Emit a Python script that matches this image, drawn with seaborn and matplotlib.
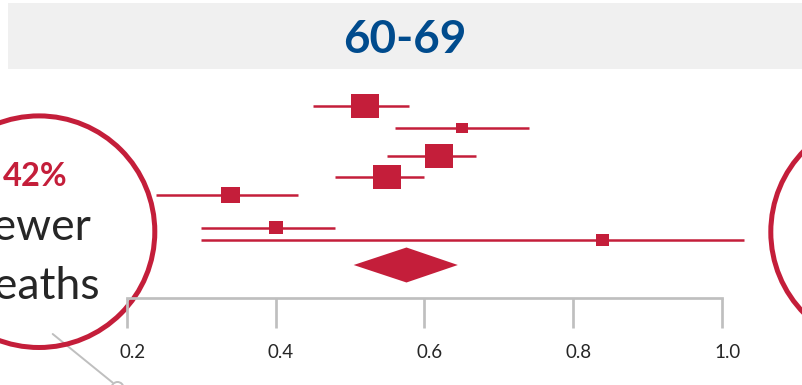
import numpy as np
import pandas as pd
import matplotlib
matplotlib.use("Agg")
import matplotlib.pyplot as plt
import seaborn as sns
from matplotlib.patches import Circle, Rectangle, Polygon
from matplotlib.path import Path
from matplotlib.transforms import ScaledTranslation

# Study-level hazard ratios, age group 60-69
hazard_ratio = [0.52, 0.65, 0.62, 0.55, 0.34, 0.40, 0.84]
ci_lower = [0.45, 0.56, 0.55, 0.48, 0.24, 0.30, 0.30]
ci_upper = [0.58, 0.74, 0.67, 0.60, 0.43, 0.48, 1.03]
weight_pct = [24.3, 4.5, 24.3, 24.0, 11.2, 6.1, 5.3]

# Pooled estimate
pooled_hr = 0.576
pooled_lower = 0.505
pooled_upper = 0.645

tick_values = [0.2, 0.4, 0.6, 0.8, 1.0]
tick_labels = ["0.2", "0.4", "0.6", "0.8", "1.0"]
panel_title = "60-69"

# ---- layout (pixel units, top = 0) ----
W, H = 803, 385
row_y = [105.7, 128, 156.3, 177, 195, 227.5, 240]
pooled_y = 265
diamond_half = 17.5
axis_y = 297.5
PX_PER_UNIT = 744.1
X_LEFT = 0.2 - 126.7 / PX_PER_UNIT
X_RIGHT = 0.2 + (W - 126.7) / PX_PER_UNIT

RED = "#C41E3A"
BLUE = "#004B8D"
GREY = "#BFBFBF"
TEXT = "#262626"

sns.set_theme(style="white")
plt.rcParams["font.family"] = ["Lato", "DejaVu Sans"]

fig = plt.figure(figsize=(W / 100, H / 100), dpi=100)

# decoration layer in pixel coordinates
deco = fig.add_axes([0, 0, 1, 1])
deco.set_xlim(0, W)
deco.set_ylim(H, 0)
deco.axis("off")

deco.add_patch(Rectangle((8, 3), W - 8, 66, facecolor="#F0F0F0", edgecolor="none"))
deco.text(405, 53.3, panel_title, ha="center", va="baseline", fontsize=33,
          fontweight="bold", color=BLUE)

# callout circles
deco.add_patch(Circle((39, 231.7), 115.8, fill=False, edgecolor=RED, linewidth=3.6, zorder=3))
deco.add_patch(Circle((886.6, 232), 115.8, fill=False, edgecolor=RED, linewidth=3.6, zorder=3))
deco.plot([52.7, 112.5], [334, 382.5], color=GREY, linewidth=1.4, zorder=2)
deco.add_patch(Circle((117.5, 388), 6, facecolor="white", edgecolor=GREY, linewidth=1.4, zorder=2))

reduction = int(round((1 - pooled_hr) * 100))
deco.text(35, 186, f"{reduction}%", ha="center", va="baseline", fontsize=23.5,
          fontweight="bold", color=RED)
deco.text(34, 240, "fewer", ha="center", va="baseline", fontsize=32, color=TEXT)
deco.text(34, 299, "deaths", ha="center", va="baseline", fontsize=32, color=TEXT)

# forest plot layer
ax = fig.add_axes([0, 0, 1, 1])
ax.patch.set_alpha(0)

df = pd.DataFrame({"hr": hazard_ratio, "lo": ci_lower, "hi": ci_upper,
                   "row": row_y, "weight": weight_pct})

ax.hlines(df["row"], df["lo"], df["hi"], color=RED, linewidth=1.8, zorder=2)

box_marker = Path([(-0.5, -0.43), (0.5, -0.43), (0.5, 0.43), (-0.5, 0.43), (-0.5, -0.43)],
                  [Path.MOVETO, Path.LINETO, Path.LINETO, Path.LINETO, Path.CLOSEPOLY])
size_lookup = {w: (28 * np.sqrt(w / 24.3) * 0.72) ** 2 for w in weight_pct}
sns.scatterplot(data=df, x="hr", y="row", size="weight", sizes=size_lookup,
                marker=box_marker, color=RED, linewidth=0, legend=False, ax=ax, zorder=3)

ax.add_patch(Polygon([(pooled_lower, pooled_y), (pooled_hr, pooled_y - diamond_half),
                      (pooled_upper, pooled_y), (pooled_hr, pooled_y + diamond_half)],
                     closed=True, facecolor=RED, edgecolor="none", zorder=3))

ax.set_xlim(X_LEFT, X_RIGHT)
ax.set_ylim(H, 0)
ax.set_xlabel("")
ax.set_ylabel("")
ax.set_yticks([])
for side in ("top", "left", "right"):
    ax.spines[side].set_visible(False)
ax.spines["bottom"].set_position(("data", axis_y))
ax.spines["bottom"].set_bounds(tick_values[0], tick_values[-1])
ax.spines["bottom"].set_color(GREY)
ax.spines["bottom"].set_linewidth(1.95)
ax.set_xticks(tick_values, tick_labels)
ax.tick_params(axis="x", direction="out", length=21.6, width=1.95, color=GREY,
               pad=12, labelsize=13.5, labelcolor=TEXT, bottom=True)
shift = ScaledTranslation(5.5 / 100, 0, fig.dpi_scale_trans)
for lbl in ax.get_xticklabels():
    lbl.set_transform(lbl.get_transform() + shift)

fig.savefig("out.png", dpi=100)
